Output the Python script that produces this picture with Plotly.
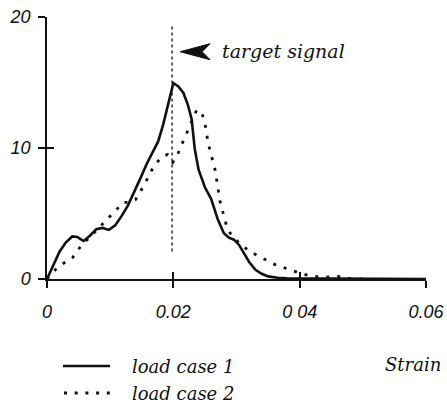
import plotly.graph_objects as go

# Strain histogram, load case 1 (solid)
strain_1 = [0.0, 0.001, 0.002, 0.003, 0.004, 0.0048, 0.0058, 0.0068, 0.0078, 0.0088,
            0.0098, 0.0108, 0.0118, 0.0128, 0.0138, 0.0148, 0.0158, 0.0168, 0.0176, 0.0184,
            0.0192, 0.0200, 0.0208, 0.0216, 0.0223, 0.0229, 0.0234, 0.0240, 0.0250, 0.0260,
            0.0270, 0.0280, 0.0288, 0.0296, 0.0304, 0.0312, 0.0320, 0.0330, 0.0340, 0.0350,
            0.0365, 0.0380, 0.0400, 0.0450, 0.0500, 0.0600]
count_1 = [0.0, 1.1, 2.1, 2.8, 3.25, 3.2, 2.9, 3.3, 3.8, 3.9,
           3.75, 4.1, 4.8, 5.6, 6.6, 7.7, 8.8, 9.8, 10.5, 11.8,
           13.4, 14.95, 14.7, 14.2, 13.3, 12.2, 9.9, 8.35, 7.0, 6.1,
           4.6, 3.5, 3.15, 3.0, 2.6, 1.95, 1.3, 0.7, 0.4, 0.2,
           0.1, 0.06, 0.05, 0.03, 0.0, 0.0]

# Strain histogram, load case 2 (dotted)
strain_2 = [0.0, 0.0018, 0.0040, 0.0055, 0.0066, 0.0076, 0.0084, 0.0100, 0.0112, 0.0121,
            0.0131, 0.0140, 0.0153, 0.0169, 0.0182, 0.0191, 0.0199, 0.0205, 0.0211, 0.0219,
            0.0228, 0.0237, 0.0245, 0.0250, 0.0255, 0.0261, 0.0266, 0.0269, 0.0274, 0.0279,
            0.0284, 0.0290, 0.0305, 0.0321, 0.0340, 0.0361, 0.0382, 0.0400, 0.0419, 0.0443,
            0.0460, 0.0475, 0.0500]
count_2 = [0.0, 0.96, 1.6, 2.6, 3.1, 3.6, 4.0, 4.8, 5.4, 5.85,
           5.85, 6.05, 7.1, 8.6, 9.35, 9.5, 8.9, 9.3, 10.0, 10.9,
           12.0, 12.9, 12.7, 11.9, 10.4, 9.36, 8.35, 7.45, 5.9, 5.0,
           4.1, 3.5, 2.7, 2.1, 1.6, 1.1, 0.75, 0.45, 0.2, 0.15,
           0.2, 0.05, 0.0]

target_strain = 0.0198
target_span = [2.1, 19.4]

x_ticks = [0, 0.02, 0.04, 0.06]
x_tick_labels = ["0", "0.02", "0 04", "0.06"]
y_ticks = [0, 10, 20]
y_tick_labels = ["0", "10", "20"]

series_names = ["load case 1", "load case 2"]
axis_title = "Strain"
target_label = "target signal"

W, H = 447, 407
ML, MR, MT, MB = 47, 21, 17, 128
PW, PH = W - ML - MR, H - MT - MB


def px(x):
    return (x - ML) / PW


def py(y):
    return (H - MB - y) / PH


ink = "#111111"
tick_font = dict(family="Liberation Sans, Arial, sans-serif", size=18, color=ink, style="italic")
text_font = dict(family="DejaVu Serif, serif", size=18, color=ink, style="italic")

fig = go.Figure()
fig.add_trace(go.Scatter(x=strain_1, y=count_1, mode="lines", name=series_names[0],
                         line=dict(color=ink, width=2.6), showlegend=False))
fig.add_trace(go.Scatter(x=strain_2, y=count_2, mode="lines", name=series_names[1],
                         line=dict(color=ink, width=2.8, dash="3px,8px"), showlegend=False))
# empty traces that bring up the companion axes holding the inner half of each tick
fig.add_trace(go.Scatter(x=[None], y=[None], xaxis="x2", yaxis="y",
                         showlegend=False, hoverinfo="skip"))
fig.add_trace(go.Scatter(x=[None], y=[None], xaxis="x", yaxis="y2",
                         showlegend=False, hoverinfo="skip"))

axis_common = dict(showgrid=False, zeroline=False, ticklen=7, tickwidth=1.5, tickcolor=ink,
                   automargin=False)
fig.update_layout(
    template="none",
    width=W, height=H, autosize=False,
    margin=dict(l=ML, r=MR, t=MT, b=MB),
    paper_bgcolor="white", plot_bgcolor="white",
    showlegend=False,
    xaxis=dict(range=[0, 0.06], tickvals=x_ticks, ticktext=x_tick_labels, ticks="outside",
               showline=True, linecolor=ink, linewidth=2, tickfont=tick_font,
               ticklabelstandoff=8, **axis_common),
    yaxis=dict(range=[0, 20], tickvals=y_ticks, ticktext=y_tick_labels, ticks="outside",
               showline=True, linecolor=ink, linewidth=1.5, tickfont=tick_font,
               ticklabelstandoff=4, **axis_common),
    xaxis2=dict(range=[0, 0.06], tickvals=x_ticks, ticks="inside", overlaying="x",
                anchor="y", side="bottom", showticklabels=False, showline=False,
                **axis_common),
    yaxis2=dict(range=[0, 20], tickvals=y_ticks, ticks="inside", overlaying="y",
                anchor="x", side="left", showticklabels=False, showline=False,
                **axis_common),
)

# target marker: dashed vertical line plus a left-pointing arrowhead
fig.add_shape(type="line", xref="x", yref="y", x0=target_strain, x1=target_strain,
              y0=target_span[0], y1=target_span[1],
              line=dict(color=ink, width=1.3, dash="3px,3px"))
fig.add_shape(type="path", xref="x", yref="y", xsizemode="pixel", ysizemode="pixel",
              xanchor=target_strain, yanchor=17.35,
              path="M 8,0 L 38,8 L 30,0 L 38,-8 Z",
              fillcolor=ink, line=dict(color=ink, width=1))
fig.add_annotation(x=px(220), y=py(51), xref="paper", yref="paper", text=target_label,
                   showarrow=False, xanchor="left", yanchor="middle",
                   font=dict(text_font, size=19))

# legend drawn below the axes
fig.add_shape(type="line", xref="paper", yref="paper", x0=px(63), x1=px(110),
              y0=py(366), y1=py(366), line=dict(color=ink, width=2.6))
fig.add_shape(type="line", xref="paper", yref="paper", x0=px(64), x1=px(110),
              y0=py(393), y1=py(393), line=dict(color=ink, width=2.8, dash="3px,7.7px"))
fig.add_annotation(x=px(130), y=py(366), xref="paper", yref="paper", text=series_names[0],
                   showarrow=False, xanchor="left", yanchor="middle", font=text_font)
fig.add_annotation(x=px(130), y=py(393), xref="paper", yref="paper", text=series_names[1],
                   showarrow=False, xanchor="left", yanchor="middle", font=text_font)
fig.add_annotation(x=px(383), y=py(364), xref="paper", yref="paper", text=axis_title,
                   showarrow=False, xanchor="left", yanchor="middle", font=text_font)

fig.write_html("out.html")
